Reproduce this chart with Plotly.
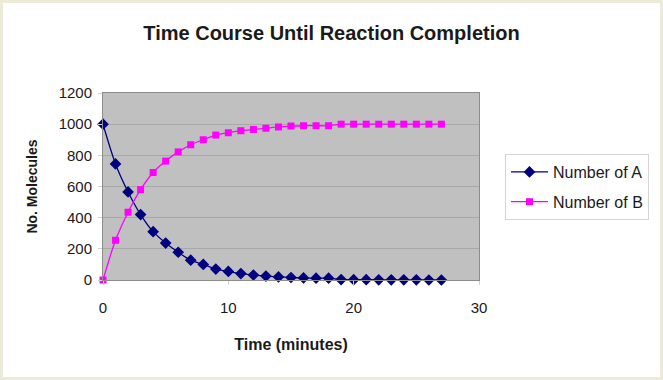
import plotly.graph_objects as go

time_min = list(range(0, 28))
number_a = [1000, 745, 565, 420, 310, 237, 178, 127, 100, 70, 55, 41, 32, 25, 20, 16, 13, 12, 12,
            3, 2, 2, 1, 1, 1, 1, 0, 0]
number_b = [0, 255, 435, 580, 690, 763, 822, 868, 900, 930, 945, 958, 966, 974, 982, 988, 990, 990, 990,
            1000, 1000, 1000, 1000, 1000, 1000, 1000, 1000, 1000]
x_ticks = [0, 10, 20, 30]
y_ticks = [0, 200, 400, 600, 800, 1000, 1200]

W, H = 663, 380
L, R, T, B = 103, 184, 93, 100
pw, ph = W - L - R, H - T - B

def px(x):
    return (x - L) / pw

def py(y):
    return (H - B - y) / ph

font = "Liberation Sans, Arial, sans-serif"
txt = "#1a1a1a"

fig = go.Figure()
fig.add_trace(go.Scatter(
    x=time_min, y=number_a, name="Number of A", mode="lines+markers",
    line=dict(color="#000080", width=1.3, shape="spline", smoothing=0.8),
    marker=dict(symbol="diamond", size=9, color="#000080"),
    cliponaxis=False, legendgroup="a"))
fig.add_trace(go.Scatter(
    x=time_min, y=number_b, name="Number of B", mode="lines+markers",
    line=dict(color="#ff00ff", width=1.3, shape="spline", smoothing=0.8),
    marker=dict(symbol="square", size=7, color="#ff00ff"),
    cliponaxis=False, legendgroup="b"))

fig.update_layout(
    width=W, height=H,
    margin=dict(l=L, r=R, t=T, b=B),
    paper_bgcolor="white", plot_bgcolor="#c0c0c0",
    font=dict(family=font, color=txt, size=15),
    title=dict(text="<b>Time Course Until Reaction Completion</b>",
               x=0.5, xref="container", xanchor="center",
               y=1 - 33 / H, yref="container", yanchor="middle",
               font=dict(size=20, color=txt, family=font)),
    showlegend=True,
    legend=dict(x=px(505), y=py(154), xanchor="left", yanchor="top",
                bgcolor="white", bordercolor="#d4d4d4", borderwidth=1,
                font=dict(size=16, color=txt, family=font),
                itemwidth=37, tracegroupgap=6, traceorder="grouped"),
    xaxis=dict(range=[0, 30], tickvals=x_ticks, showgrid=False, zeroline=False,
               showline=True, linecolor="#8c8c8c", linewidth=1, mirror=True,
               ticks="outside", ticklen=4, tickcolor="#d0d0d0",
               ticklabelstandoff=10,
               tickfont=dict(size=15, color=txt),
               title=dict(text="<b>Time (minutes)</b>", standoff=23,
                          font=dict(size=16, color=txt))),
    yaxis=dict(range=[0, 1200], tickvals=y_ticks, showgrid=True, gridcolor="#a8a8a8",
               gridwidth=1, zeroline=False,
               showline=True, linecolor="#8c8c8c", linewidth=1, mirror=True,
               ticks="outside", ticklen=4, tickcolor="#d0d0d0",
               ticklabelstandoff=3,
               tickfont=dict(size=15, color=txt),
               title=dict(text="<b>No. Molecules</b>", standoff=17,
                          font=dict(size=14, color=txt))),
    shapes=[dict(type="rect", xref="paper", yref="paper",
                 x0=px(0), x1=px(W), y0=py(H), y1=py(0),
                 line=dict(color="#ebebd8", width=6), fillcolor="rgba(0,0,0,0)",
                 layer="above")],
)

fig.write_html("out.html", config={"displayModeBar": False},
               post_script="document.body.style.margin='0px';")
